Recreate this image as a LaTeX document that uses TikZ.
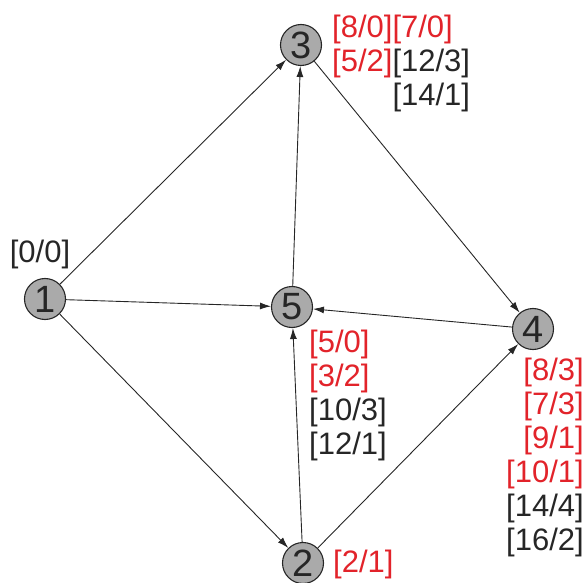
\documentclass[tikz,border=0pt]{standalone}
\usepackage{fontspec}
\setmainfont{Liberation Sans}
\usetikzlibrary{arrows.meta}

\definecolor{ordred}{RGB}{226,35,42}
\definecolor{vtxgray}{RGB}{170,170,170}
\definecolor{inkdark}{RGB}{38,38,38}

\tikzset{
  vtx/.style={circle,draw=inkdark,fill=vtxgray,line width=1.1pt,inner sep=0pt,
    minimum size=41pt,font=\fontsize{38}{38}\selectfont,text=inkdark},
  arc/.style={-{Latex[length=11pt,width=7pt]},line width=0.9pt,draw=inkdark},
  lbl/.style={inner sep=0pt,text=inkdark,font=\fontsize{31}{34}\selectfont}
}
\newcommand{\rd}[1]{\textcolor{ordred}{#1}}

\begin{document}
\begin{tikzpicture}[x=1pt,y=-1pt]
\useasboundingbox (0,0) rectangle (587,583);
% vertices
\node[vtx] (v1) at (45,299) {1};
\node[vtx] (v2) at (303,563) {2};
\node[vtx] (v3) at (301,45) {3};
\node[vtx] (v4) at (533,329) {4};
\node[vtx] (v5) at (292,307) {5};
% arcs
\draw[arc] (v1) -- (v3);
\draw[arc] (v1) -- (v5);
\draw[arc] (v1) -- (v2);
\draw[arc] (v5) -- (v3);
\draw[arc] (v3) -- (v4);
\draw[arc] (v4) -- (v5);
\draw[arc] (v2) -- (v5);
\draw[arc] (v2) -- (v4);
% labels
\node[lbl] (l1) at (40,254) {[0/0]};
\node[lbl,anchor=north west,align=left] (l3) at (332,14.5)
  {\rd{[8/0][7/0]}\\\rd{[5/2]}[12/3]\\\phantom{[5/2]}[14/1]};
\node[lbl,anchor=north west,align=left] (l5) at (309,329.5)
  {\rd{[5/0]}\\\rd{[3/2]}\\{}[10/3]\\{}[12/1]};
\node[lbl,anchor=north east,align=right] (l4) at (584,357.5)
  {\rd{[8/3]}\\\rd{[7/3]}\\\rd{[9/1]}\\\rd{[10/1]}\\{}[14/4]\\{}[16/2]};
\node[lbl,anchor=west,text=ordred] (l2) at (333,564) {[2/1]};
\end{tikzpicture}
\end{document}
